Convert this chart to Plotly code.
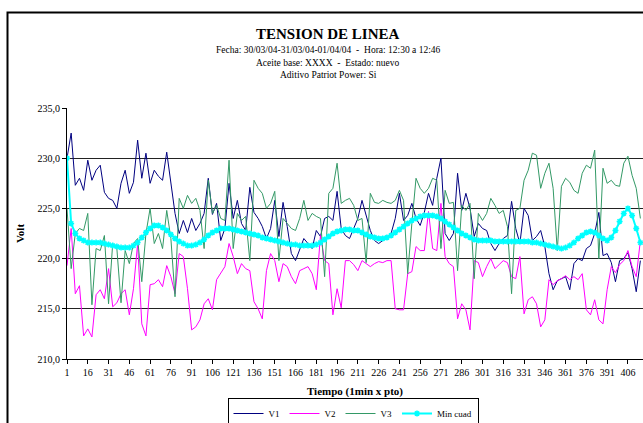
import plotly.graph_objects as go

# time index (1 min per point), sampled every 3 points
t = list(range(1, 416, 3))

v1 = [230.0, 232.5, 227.3, 228.0, 226.8, 229.8, 227.8, 228.8, 229.3, 226.6,
      226.0, 225.8, 225.0, 227.5, 228.8, 226.5, 227.6, 231.8, 228.0, 230.5,
      227.5, 228.8, 228.2, 227.8, 230.6, 227.8, 224.5, 222.5, 223.8, 222.6,
      224.0, 222.8, 223.5, 224.5, 228.0, 224.4, 225.5, 221.8, 223.0, 227.5,
      224.0, 225.8, 223.5, 222.8, 227.1, 224.6, 224.0, 223.2, 222.0, 223.0,
      225.8, 222.2, 225.6, 223.2, 220.5, 219.8, 221.0, 222.0, 221.5, 221.0,
      222.8, 222.2, 224.0, 224.2, 223.8, 226.7, 223.0, 222.3, 222.0, 223.0,
      224.0, 225.8, 224.3, 222.8, 221.8, 221.5, 221.8, 222.2, 222.5, 224.0,
      226.5, 223.8, 224.3, 225.5, 224.0, 223.3, 224.6, 226.5, 225.3, 228.0,
      230.0, 222.5, 221.8, 222.5, 228.5, 224.8, 226.5, 225.0, 222.2, 223.5,
      223.0, 222.8, 221.5, 220.8, 221.5, 222.0, 222.3, 225.7, 223.0, 221.5,
      225.0, 224.3, 221.8, 222.2, 222.8, 221.2, 218.5, 216.9, 217.8, 218.0,
      218.2, 216.9, 219.5, 220.0, 219.8, 221.0, 221.3, 222.5, 224.6, 220.3,
      220.5, 219.6, 217.7, 219.8, 220.0, 220.6, 219.0, 216.7, 219.8]

v2 = [219.3, 223.0, 216.5, 217.3, 212.3, 213.0, 212.2, 216.4, 216.9, 216.0,
      219.0, 215.2, 215.6, 216.5, 216.9, 214.4, 217.0, 221.5, 213.5, 212.3,
      217.4, 217.5, 217.9, 217.2, 219.3, 218.2, 216.5, 220.5, 220.2, 217.0,
      212.9, 213.2, 213.9, 215.5, 216.0, 214.9, 217.9, 218.5, 219.2, 221.5,
      220.2, 218.5, 219.5, 219.0, 218.8, 215.7, 215.0, 214.0, 218.8, 220.5,
      219.8, 217.7, 219.5, 219.2, 218.2, 217.5, 218.8, 219.0, 219.2, 218.5,
      216.9, 222.3, 219.8, 219.5, 214.4, 217.0, 215.1, 219.8, 219.8, 219.4,
      218.8, 219.8, 219.5, 219.2, 219.5, 219.7, 219.6, 219.8, 219.8, 215.0,
      214.9, 214.9, 218.5, 218.7, 221.2, 220.8, 220.8, 224.7, 221.0, 220.8,
      225.5, 220.2, 219.5, 219.2, 214.0, 215.5, 214.9, 212.9, 219.8, 219.6,
      218.2, 219.2, 220.0, 219.0, 219.4, 219.8, 219.6, 218.2, 218.0, 220.2,
      214.5, 215.9, 216.2, 215.5, 213.2, 213.9, 217.9, 217.4, 217.8, 218.0,
      218.3, 217.9, 218.2, 217.9, 218.5, 214.9, 214.4, 215.9, 213.9, 213.5,
      216.9, 219.2, 218.6, 219.4, 219.8, 220.8, 219.2, 218.2, 221.8]

v3 = [225.0, 219.0, 222.5, 223.0, 222.8, 224.5, 215.4, 221.0, 220.8, 222.3,
      215.5, 221.5, 221.0, 215.6, 220.8, 219.5, 221.5, 222.0, 217.7, 222.5,
      225.0, 221.5, 222.5, 221.0, 224.8, 222.0, 216.2, 226.0, 225.0, 226.3,
      225.5, 226.0, 224.8, 221.0, 227.8, 224.5, 225.3, 224.0, 223.8, 229.8,
      221.0, 224.5, 223.8, 224.2, 219.8, 227.8, 227.0, 226.5, 225.0, 225.5,
      226.7, 219.8, 224.0, 223.5, 223.0, 222.8, 224.0, 225.8, 223.8, 224.5,
      224.2, 224.0, 218.2, 226.5, 227.0, 229.5, 225.5, 225.8, 226.0, 225.3,
      223.8, 224.0, 219.6, 226.5, 225.6, 225.5, 225.8, 225.6, 225.5, 225.8,
      226.8, 225.8, 218.5, 223.5, 228.0, 227.0, 226.5, 227.0, 228.0, 227.8,
      221.0, 226.8, 225.5, 225.6, 218.8, 225.3, 224.8, 225.5, 218.0, 224.5,
      223.8, 224.5, 226.0, 225.3, 224.5, 224.8, 223.2, 216.5, 224.8, 225.0,
      227.8, 228.8, 230.5, 230.3, 227.0, 228.5, 229.5, 227.0, 220.8, 227.2,
      228.0, 227.6, 226.8, 226.5, 228.5, 229.3, 229.0, 230.8, 220.0, 229.0,
      227.5, 227.8, 227.3, 227.2, 229.5, 230.2, 228.3, 227.0, 224.0]

min_cuad = [230.0, 223.5, 222.5, 222.0, 221.8, 221.6, 221.6, 221.6, 221.6, 221.5,
            221.4, 221.3, 221.2, 221.1, 221.1, 221.1, 221.3, 221.6, 222.1, 222.6,
            223.0, 223.3, 223.3, 223.1, 222.8, 222.4, 222.0, 221.7, 221.5, 221.3,
            221.3, 221.4, 221.6, 221.9, 222.3, 222.6, 222.8, 223.0, 223.0, 223.0,
            222.9, 222.8, 222.7, 222.6, 222.5, 222.4, 222.3, 222.1, 222.0, 221.9,
            221.8, 221.7, 221.6, 221.5, 221.4, 221.4, 221.3, 221.3, 221.3, 221.3,
            221.4, 221.6, 221.9, 222.2, 222.5, 222.7, 222.8, 222.9, 222.9, 222.8,
            222.8, 222.6, 222.4, 222.2, 222.1, 222.0, 222.0, 222.1, 222.3, 222.6,
            222.9, 223.2, 223.5, 223.8, 224.0, 224.2, 224.3, 224.3, 224.3, 224.2,
            224.0, 223.7, 223.4, 223.1, 222.8, 222.5, 222.3, 222.1, 221.9, 221.8,
            221.8, 221.8, 221.8, 221.7, 221.7, 221.7, 221.7, 221.7, 221.7, 221.7,
            221.7, 221.7, 221.6, 221.6, 221.5, 221.4, 221.3, 221.2, 221.1, 221.0,
            221.1, 221.3, 221.6, 222.0, 222.3, 222.6, 222.7, 222.6, 222.3, 222.0,
            221.8, 222.1, 222.8, 223.7, 224.5, 225.0, 224.3, 223.0, 221.6]

x_ticks = list(range(1, 407, 15))
y_ticks = [210, 215, 220, 225, 230, 235]

SERIF = "Liberation Serif, Times New Roman, serif"

fig = go.Figure()
fig.add_trace(go.Scatter(x=t, y=v1, name="V1", mode="lines",
                         line=dict(color="#000080", width=1)))
fig.add_trace(go.Scatter(x=t, y=v2, name="V2", mode="lines",
                         line=dict(color="#FF00FF", width=1)))
fig.add_trace(go.Scatter(x=t, y=v3, name="V3", mode="lines",
                         line=dict(color="#339966", width=1)))
fig.add_trace(go.Scatter(x=t, y=min_cuad, name="Min cuad", mode="lines+markers",
                         line=dict(color="#00FFFF", width=2),
                         marker=dict(symbol="asterisk-open", size=5,
                                     color="#00FFFF",
                                     line=dict(color="#00FFFF", width=1.5))))

L, R, T, B = 67, 0, 108, 64
W, H = 643, 423
pw, ph = W - L - R, H - T - B

def px(x):
    return (x - L) / pw

def py(y):
    return (H - B - y) / ph

fig.update_layout(
    width=W, height=H,
    margin=dict(l=L, r=R, t=T, b=B, autoexpand=False),
    paper_bgcolor="white", plot_bgcolor="white",
    separators=",.",
    font=dict(family=SERIF, size=10, color="#000000"),
    showlegend=True,
    legend=dict(orientation="h", x=px(353), xanchor="center",
                y=py(398), yanchor="top",
                bordercolor="#000000", borderwidth=1,
                font=dict(family=SERIF, size=9),
                itemwidth=30, tracegroupgap=0,
                bgcolor="white"),
    xaxis=dict(range=[1, 1 + pw / 1.385], tickmode="array",
               tickvals=x_ticks, ticktext=[str(v) for v in x_ticks],
               showgrid=False, zeroline=False, automargin=False,
               showline=True, linecolor="#000000", linewidth=1,
               ticks="outside", ticklen=4, tickcolor="#000000",
               tickfont=dict(family=SERIF, size=10, color="#000000"),
               title=dict(text="<b>Tiempo (1min x pto)</b>",
                          font=dict(family=SERIF, size=11), standoff=10)),
    yaxis=dict(range=[210, 235], tickmode="array", tickvals=y_ticks,
               tickformat=".1f", automargin=False,
               showgrid=True, gridcolor="#222222", gridwidth=1,
               zeroline=False,
               showline=True, linecolor="#000000", linewidth=1,
               ticks="outside", ticklen=4, tickcolor="#000000",
               tickfont=dict(family=SERIF, size=10, color="#000000"),
               title=dict(text="<b>Volt</b>",
                          font=dict(family=SERIF, size=11), standoff=10)),
)

fig.add_shape(type="rect", xref="paper", yref="paper",
              x0=px(7.5), x1=px(660), y0=py(440), y1=py(12.5),
              line=dict(color="#000000", width=2), fillcolor="rgba(0,0,0,0)",
              layer="below")

cx = px(328)
fig.add_annotation(text="<b>TENSION DE LINEA</b>", x=cx, y=py(34),
                   xref="paper", yref="paper", showarrow=False,
                   font=dict(family=SERIF, size=15), xanchor="center", yanchor="middle")
fig.add_annotation(text="Fecha: 30/03/04-31/03/04-01/04/04  -  Hora: 12:30 a 12:46",
                   x=cx, y=py(50), xref="paper", yref="paper", showarrow=False,
                   font=dict(family=SERIF, size=9.5), xanchor="center", yanchor="middle")
fig.add_annotation(text="Aceite base: XXXX  -  Estado: nuevo",
                   x=cx, y=py(63), xref="paper", yref="paper", showarrow=False,
                   font=dict(family=SERIF, size=9.5), xanchor="center", yanchor="middle")
fig.add_annotation(text="Aditivo Patriot Power: Si",
                   x=cx, y=py(75), xref="paper", yref="paper", showarrow=False,
                   font=dict(family=SERIF, size=9.5), xanchor="center", yanchor="middle")

fig.write_html("out.html", config={"displayModeBar": False},
               post_script="document.body.style.margin='0';document.body.style.overflow='hidden';")
